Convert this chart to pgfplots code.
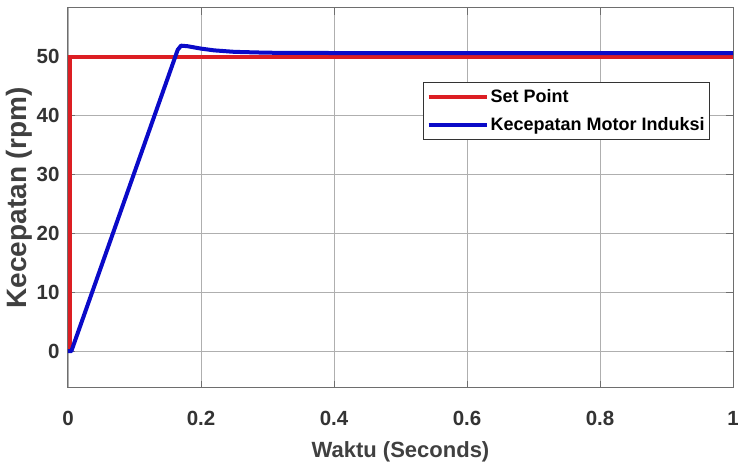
\documentclass[border=0pt]{standalone}
\usepackage{fontspec}
\setmainfont{Liberation Sans}
\usepackage{pgfplots}
\pgfplotsset{compat=1.18}
\definecolor{spred}{RGB}{220,30,35}
\definecolor{mtblue}{RGB}{10,10,200}
\definecolor{boxgray}{RGB}{110,110,110}
\definecolor{gridgray}{RGB}{175,175,175}
\begin{document}
\begin{tikzpicture}
% page frame: the axis box sits with its lower left corner at the origin
\useasboundingbox (-68pt,-85pt) rectangle (670pt,388pt);
\begin{axis}[
  at={(0pt,0pt)}, anchor=south west,
  scale only axis,
  width=665pt, height=380pt,
  xmin=0, xmax=1, ymin=-6.25, ymax=58.3,
  xtick={0,0.2,0.4,0.6,0.8,1},
  ytick={0,10,20,30,40,50},
  xticklabels={0,0.2,0.4,0.6,0.8,1},
  grid=major,
  major grid style={gridgray, line width=0.9pt},
  axis line style={boxgray, line width=1pt},
  tick style={boxgray, line width=1pt},
  tick align=inside,
  major tick length=7pt,
  /pgf/number format/assume math mode=true,
  ticklabel style={font=\bfseries\fontsize{20.5}{21}\selectfont, text=black!80},
  xticklabel style={yshift=-20pt},
  yticklabel style={xshift=-5pt},
  xlabel={Waktu (Seconds)},
  ylabel={Kecepatan (rpm)},
  xlabel style={font=\bfseries\fontsize{22}{22}\selectfont, text=black!75, yshift=-9pt},
  ylabel style={font=\bfseries\fontsize{28}{28}\selectfont, text=black!75, yshift=-3pt},
  legend style={at={(0.534,0.804)}, anchor=north west,
    font=\bfseries\fontsize{18}{20}\selectfont, draw=black!80, line width=0.8pt,
    fill=white, inner xsep=3pt, inner ysep=5pt, row sep=9pt},
  legend cell align=left,
  legend image code/.code={\draw[#1, line width=4pt] (0pt,0pt) -- (58pt,0pt);},
]
\addplot[spred, line width=4pt] coordinates {
  (0,0) (0.003,0) (0.003,50) (1,50)
};
\addlegendentry{Set Point}
\addplot[mtblue, line width=4pt, line join=round] coordinates {
  (0,0) (0.005,0) (0.165,51.2) (0.170,51.9) (0.18,51.8) (0.2,51.4)
  (0.22,51.1) (0.25,50.85) (0.3,50.7) (0.4,50.65) (1,50.65)
};
\addlegendentry{Kecepatan Motor Induksi}
\end{axis}
\end{tikzpicture}
\end{document}
